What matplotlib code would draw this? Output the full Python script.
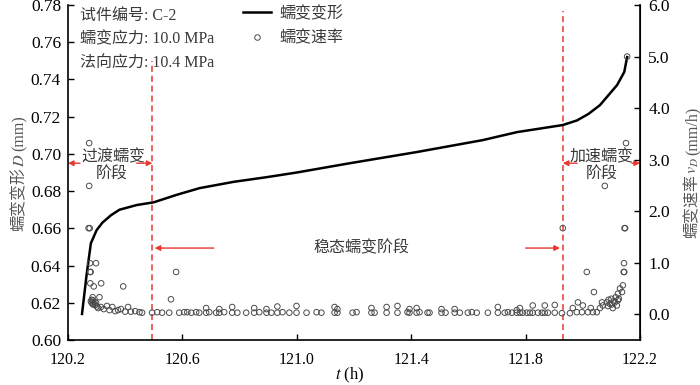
import matplotlib
matplotlib.use("Agg")
import matplotlib.pyplot as plt
from matplotlib.lines import Line2D

plt.rcParams['font.family'] = ['Liberation Serif', 'Noto Sans CJK SC']
plt.rcParams['mathtext.fontset'] = 'stix'

# creep deformation curve (h, mm)
curve_t = [120.249, 120.265, 120.28, 120.30, 120.32, 120.35, 120.38, 120.44, 120.50,
           120.58, 120.66, 120.78, 120.895, 121.0, 121.186, 121.42, 121.65, 121.77,
           121.93, 121.98, 122.02, 122.06, 122.09, 122.12, 122.145, 122.155]
curve_d = [0.614, 0.635, 0.652, 0.659, 0.663, 0.667, 0.670, 0.6725, 0.674,
           0.678, 0.6816, 0.685, 0.6875, 0.690, 0.695, 0.701, 0.7074, 0.7117,
           0.7155, 0.718, 0.7215, 0.7262, 0.7316, 0.737, 0.744, 0.752]

# creep rate scatter (h, mm/h)
rate_t = [120.274, 120.274, 120.272, 120.276, 120.277, 120.298, 120.277, 120.279,
          120.278, 120.316, 120.290, 120.393, 120.310, 120.286,
          120.280, 120.283, 120.286, 120.289, 120.292, 120.295, 120.298, 120.301,
          120.287, 120.283, 120.305, 120.315, 120.325, 120.336, 120.345, 120.355,
          120.365, 120.375, 120.385, 120.400, 120.410, 120.420, 120.435, 120.450,
          120.459, 120.494, 120.512, 120.529, 120.554, 120.560, 120.578, 120.589,
          120.606, 120.617, 120.631, 120.648, 120.659, 120.683, 120.683, 120.694,
          120.718, 120.729, 120.729, 120.746, 120.774, 120.774, 120.792, 120.823,
          120.851, 120.851, 120.869, 120.894, 120.894, 120.911, 120.932, 120.932,
          120.950, 120.974, 120.999, 120.999, 121.034, 121.069, 121.086, 121.132,
          121.132, 121.142, 121.142, 121.195, 121.209, 121.261, 121.261, 121.272,
          121.314, 121.314, 121.352, 121.352, 121.387, 121.394, 121.394, 121.419,
          121.419, 121.429, 121.457, 121.464, 121.506, 121.506, 121.520, 121.552,
          121.552, 121.570, 121.598, 121.612, 121.629, 121.668, 121.703, 121.703,
          121.727, 121.738, 121.752, 121.769, 121.769, 121.780, 121.780, 121.790,
          121.804, 121.815, 121.825, 121.825, 121.843, 121.857, 121.867, 121.867,
          121.878, 121.902, 121.902,
          121.930, 121.927, 121.955, 121.965, 121.983, 121.979, 122.000, 121.997,
          122.014, 122.018, 122.028, 122.039, 122.035, 122.049, 122.060, 122.077,
          122.067, 122.070, 122.084, 122.088, 122.090, 122.095, 122.100, 122.102,
          122.105, 122.108, 122.112, 122.115, 122.119, 122.123, 122.123, 122.126,
          122.130, 122.137, 122.140, 122.144, 122.143, 122.145, 122.146, 122.148,
          122.151, 122.155]
rate_v = [3.32, 2.49, 1.67, 1.67, 0.99, 0.99, 0.82, 0.82,
          0.60, 0.60, 0.54, 0.54, 0.33, 0.33,
          0.25, 0.22, 0.27, 0.20, 0.24, 0.18, 0.22, 0.15,
          0.19, 0.28, 0.12, 0.14, 0.10, 0.16, 0.08, 0.14,
          0.06, 0.08, 0.10, 0.05, 0.14, 0.05, 0.06, 0.04,
          0.03, 0.03, 0.04, 0.03, 0.03, 0.29, 0.82, 0.03,
          0.04, 0.04, 0.03, 0.04, 0.03, 0.03, 0.12, 0.04,
          0.03, 0.03, 0.10, 0.04, 0.03, 0.14, 0.03, 0.03,
          0.03, 0.12, 0.04, 0.03, 0.10, 0.03, 0.03, 0.15,
          0.04, 0.03, 0.03, 0.16, 0.03, 0.04, 0.03, 0.03,
          0.14, 0.03, 0.10, 0.03, 0.04, 0.03, 0.12, 0.03,
          0.03, 0.14, 0.03, 0.16, 0.04, 0.03, 0.10, 0.03,
          0.12, 0.04, 0.03, 0.03, 0.03, 0.10, 0.03, 0.03,
          0.10, 0.03, 0.03, 0.04, 0.03, 0.03, 0.03, 0.14,
          0.03, 0.04, 0.03, 0.03, 0.08, 0.03, 0.12, 0.03,
          0.03, 0.03, 0.03, 0.17, 0.03, 0.03, 0.03, 0.17,
          0.03, 0.03, 0.18,
          1.67, 0.02, 0.02, 0.12, 0.23, 0.04, 0.17, 0.04,
          0.82, 0.04, 0.12, 0.43, 0.04, 0.04, 0.12, 2.49,
          0.23, 0.17, 0.23, 0.16, 0.28, 0.20, 0.30, 0.19,
          0.12, 0.25, 0.23, 0.33, 0.17, 0.27, 0.40, 0.30,
          0.50, 0.43, 0.56, 0.99, 0.82, 0.82, 1.67, 1.67,
          3.32, 5.00]

x_ticks = [120.2, 120.6, 121.0, 121.4, 121.8, 122.2]
yl_ticks = [0.60, 0.62, 0.64, 0.66, 0.68, 0.70, 0.72, 0.74, 0.76, 0.78]
yr_ticks = [0.0, 1.0, 2.0, 3.0, 4.0, 5.0, 6.0]
stage_bounds = [120.495, 121.93]

red = '#e8382f'
txtgray = '#3a3a3a'
labgray = '#555555'
cjk = ['Noto Sans CJK SC']
serif = ['Liberation Serif']

W, H = 700, 385
fig = plt.figure(figsize=(7.0, 3.85), dpi=100)
ax = fig.add_axes([68 / W, 1 - 340 / H, (640 - 68) / W, (340 - 5) / H])
ax2 = ax.twinx()

ax.plot(curve_t, curve_d, color='black', lw=1.8, zorder=3)
ax2.scatter(rate_t, rate_v, s=16, facecolors='none', edgecolors='#4a4a4a',
            linewidths=0.7, zorder=2)

ax.set_xlim(120.2, 122.2)
ax.set_ylim(0.60, 0.78)
ax2.set_ylim(-0.5, 6.0)
ax.set_xticks(x_ticks)
ax.set_xticklabels([f'{v:.1f}' for v in x_ticks])
ax.set_yticks(yl_ticks)
ax.set_yticklabels([f'{v:.2f}' for v in yl_ticks])
ax2.set_yticks(yr_ticks)
ax2.set_yticklabels([f'{v:.1f}' for v in yr_ticks])

for a in (ax, ax2):
    a.spines['top'].set_visible(False)
    a.tick_params(direction='in', length=4, width=1.0, labelsize=12.5, colors='black')
ax.tick_params(axis='x', labelsize=11.5, pad=9)
ax.tick_params(axis='y', pad=5)
ax2.tick_params(axis='y', pad=6)
ax2.spines['left'].set_visible(False)
for s in ('left', 'bottom'):
    ax.spines[s].set_linewidth(1.2)
ax2.spines['right'].set_linewidth(1.2)
ax2.spines['bottom'].set_visible(False)

# x label
fig.text(350 / W, 1 - 375 / H, r'$t$ (h)', ha='center', va='center', fontsize=12,
         family=serif)

# y labels built from pieces (CJK + italic symbol + units)
renderer = fig.canvas.get_renderer()


def chain_label(xpix, ycenter, pieces, size):
    objs = []
    total = 0.0
    for s, fam, gap in pieces:
        t = fig.text(0, 0, s, fontsize=size, family=fam, color=labgray,
                     rotation=90, rotation_mode='anchor', ha='left', va='baseline',
                     transform=None)
        t.set_rotation(0)
        w = t.get_window_extent(renderer).width
        t.set_rotation(90)
        objs.append((t, w, gap))
        total += w + gap
    y = ycenter - total / 2
    for t, w, gap in objs:
        t.set_position((xpix, y))
        y += w + gap


chain_label(24, H - 173, [('蠕变变形', cjk, 0), (r'$D$', serif, 2), ('(mm)', serif, 0)], 11.5)
chain_label(697, H - 172, [('蠕变速率', cjk, 0), (r'$v_D$', serif, 2), ('(mm/h)', serif, 0)], 11.5)

# stage boundaries
ax.plot([stage_bounds[0]] * 2, [0.60, 0.75], color=red, lw=1.1, ls=(0, (4, 2.5)), zorder=1)
ax.plot([stage_bounds[1]] * 2, [0.60, 0.777], color=red, lw=1.1, ls=(0, (4, 2.5)), zorder=1)

arrow = dict(arrowstyle='-|>', color=red, lw=1.0, mutation_scale=8, shrinkA=0, shrinkB=0)
fs_stage = 11.5
# transient stage
ax.text(120.358, 0.6982, '过渡蠕变', ha='center', va='center', fontsize=fs_stage, color=txtgray)
ax.text(120.352, 0.6890, '阶段', ha='center', va='center', fontsize=fs_stage, color=txtgray)
ax.annotate('', xy=(120.2, 0.695), xytext=(120.242, 0.695), arrowprops=arrow)
ax.annotate('', xy=(stage_bounds[0], 0.695), xytext=(120.44, 0.695), arrowprops=arrow)
# steady stage
ax.text(121.225, 0.6494, '稳态蠕变阶段', ha='center', va='center', fontsize=fs_stage, color=txtgray)
ax.annotate('', xy=(stage_bounds[0] + 0.008, 0.6494), xytext=(120.71, 0.6494), arrowprops=arrow)
ax.annotate('', xy=(stage_bounds[1] - 0.01, 0.6494), xytext=(121.8, 0.6494), arrowprops=arrow)
# accelerating stage
ax.text(122.065, 0.6982, '加速蠕变', ha='center', va='center', fontsize=fs_stage, color=txtgray)
ax.text(122.065, 0.6890, '阶段', ha='center', va='center', fontsize=fs_stage, color=txtgray)
ax.annotate('', xy=(stage_bounds[1], 0.695), xytext=(121.98, 0.695), arrowprops=arrow)
ax.annotate('', xy=(122.2, 0.695), xytext=(122.172, 0.695), arrowprops=arrow)

# specimen info
info = ['试件编号: C-2', '蠕变应力: 10.0 MPa', '法向应力: 10.4 MPa']
for i, s in enumerate(info):
    fig.text(80 / W, 1 - (16 + i * 23.5) / H, s, ha='left', va='center',
             fontsize=11.5, color=txtgray)

handles = [Line2D([], [], color='black', lw=1.8),
           Line2D([], [], ls='none', marker='o', markersize=4, markerfacecolor='none',
                  markeredgecolor='#4a4a4a', markeredgewidth=0.7)]
fig.legend(handles, ['蠕变变形', '蠕变速率'], loc='upper left',
           bbox_to_anchor=(243 / W, 1 - 6 / H), frameon=False, fontsize=11.5,
           handlelength=1.75, handletextpad=0.5, labelspacing=0.52, borderpad=0,
           borderaxespad=0, labelcolor=txtgray)

fig.savefig('out.png', dpi=100)
